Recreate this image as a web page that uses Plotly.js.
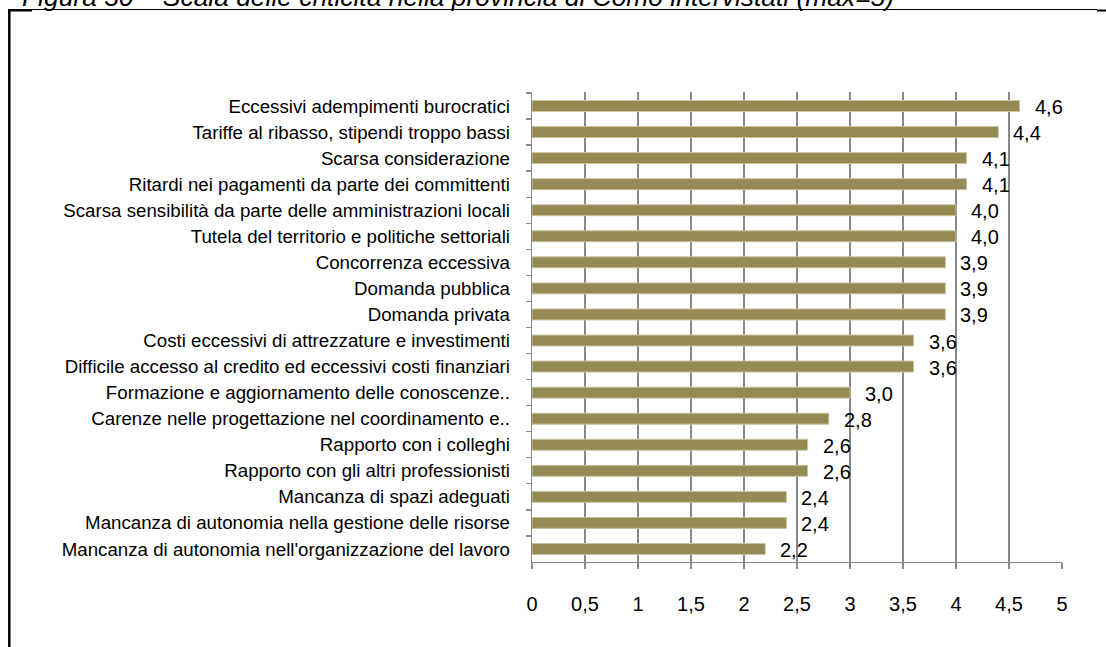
<!DOCTYPE html>
<html>
<head>
<meta charset="utf-8">
<script src="https://cdn.plot.ly/plotly-3.0.1.min.js"></script>
<style>html,body{margin:0;padding:0;background:#fff;}#chart{width:1106px;height:647px;}</style>
</head>
<body>
<div id="chart"></div>
<script>
const categories = [
  "Eccessivi adempimenti burocratici",
  "Tariffe al ribasso, stipendi troppo bassi",
  "Scarsa considerazione",
  "Ritardi nei pagamenti da parte dei committenti",
  "Scarsa sensibilità da parte delle amministrazioni locali",
  "Tutela del territorio e politiche settoriali",
  "Concorrenza eccessiva",
  "Domanda pubblica",
  "Domanda privata",
  "Costi eccessivi di attrezzature e investimenti",
  "Difficile accesso al credito ed eccessivi costi finanziari",
  "Formazione e aggiornamento delle conoscenze..",
  "Carenze nelle progettazione nel coordinamento e..",
  "Rapporto con i colleghi",
  "Rapporto con gli altri professionisti",
  "Mancanza di spazi adeguati",
  "Mancanza di autonomia nella gestione delle risorse",
  "Mancanza di autonomia nell'organizzazione del lavoro"
];
const values = [4.6, 4.4, 4.1, 4.1, 4.0, 4.0, 3.9, 3.9, 3.9, 3.6, 3.6, 3.0, 2.8, 2.6, 2.6, 2.4, 2.4, 2.2];
const xTicks = [0, 0.5, 1, 1.5, 2, 2.5, 3, 3.5, 4, 4.5, 5];
const titleText = "Figura 30 – Scala delle criticità nella provincia di Como intervistati (max=5)";

// layout geometry (pixels)
const W = 1106, H = 647;
const M = {l: 532, r: 44, t: 92, b: 85};
const pw = W - M.l - M.r, ph = H - M.t - M.b;
const px = x => (x - M.l) / pw;
const py = y => (H - M.b - y) / ph;

const FONT = "Liberation Sans, Arial, sans-serif";
const GRID = "#898989";

const trace = {
  type: "bar",
  orientation: "h",
  y: categories,
  x: values,
  width: 0.42,
  marker: {color: "#948A54", line: {color: "#C9C29E", width: 1}},
  hoverinfo: "x+y"
};

const valueLabels = values.map((v, i) => ({
  x: v, y: categories[i], xref: "x", yref: "y",
  text: v.toFixed(1).replace(".", ","),
  showarrow: false, xanchor: "left", yanchor: "middle",
  xshift: 13, yshift: -1,
  font: {family: FONT, size: 20, color: "#000"}
}));

const titleAnn = {
  x: px(20), y: py(-2.6), xref: "paper", yref: "paper",
  text: "<i>" + titleText + "</i>",
  showarrow: false, xanchor: "left", yanchor: "middle",
  font: {family: FONT, size: 26.4, color: "#000"}
};

const shapes = [
  {type: "line", xref: "paper", yref: "paper", x0: px(8), x1: px(1097), y0: py(9.5), y1: py(9.5), line: {color: "#000", width: 1}},
  {type: "line", xref: "paper", yref: "paper", x0: px(8), x1: px(32), y0: py(10.5), y1: py(10.5), line: {color: "#000", width: 2}},
  {type: "line", xref: "paper", yref: "paper", x0: px(1097), x1: px(1106), y0: py(10.5), y1: py(10.5), line: {color: "#000", width: 2}},
  {type: "line", xref: "paper", yref: "paper", x0: px(9.3), x1: px(9.3), y0: py(9.5), y1: py(660), line: {color: "#000", width: 2.5}}
];

const layout = {
  width: W, height: H,
  margin: M,
  paper_bgcolor: "#fff", plot_bgcolor: "#fff",
  separators: ",.",
  showlegend: false,
  bargap: 0.58,
  font: {family: FONT, color: "#000"},
  xaxis: {
    range: [0, 5.0001],
    tickvals: xTicks,
    showgrid: true, gridcolor: GRID, gridwidth: 1.3,
    zeroline: false,
    showline: true, linecolor: GRID, linewidth: 1.3,
    ticks: "outside", ticklen: 6, tickcolor: GRID, tickwidth: 1.3,
    tickfont: {family: FONT, size: 20, color: "#000"},
    ticklabelstandoff: 18,
    fixedrange: true
  },
  yaxis: {
    type: "category",
    categoryorder: "array", categoryarray: categories,
    autorange: "reversed",
    showgrid: false, zeroline: false,
    showline: true, linecolor: GRID, linewidth: 1.3,
    ticks: "outside", ticklen: 5, tickcolor: GRID, tickwidth: 1.3,
    tickson: "boundaries",
    tickfont: {family: FONT, size: 18.7, color: "#000"},
    ticklabelstandoff: 17,
    fixedrange: true
  },
  annotations: [titleAnn].concat(valueLabels),
  shapes: shapes
};

Plotly.newPlot("chart", [trace], layout, {displayModeBar: false, staticPlot: true});
</script>
</body>
</html>
